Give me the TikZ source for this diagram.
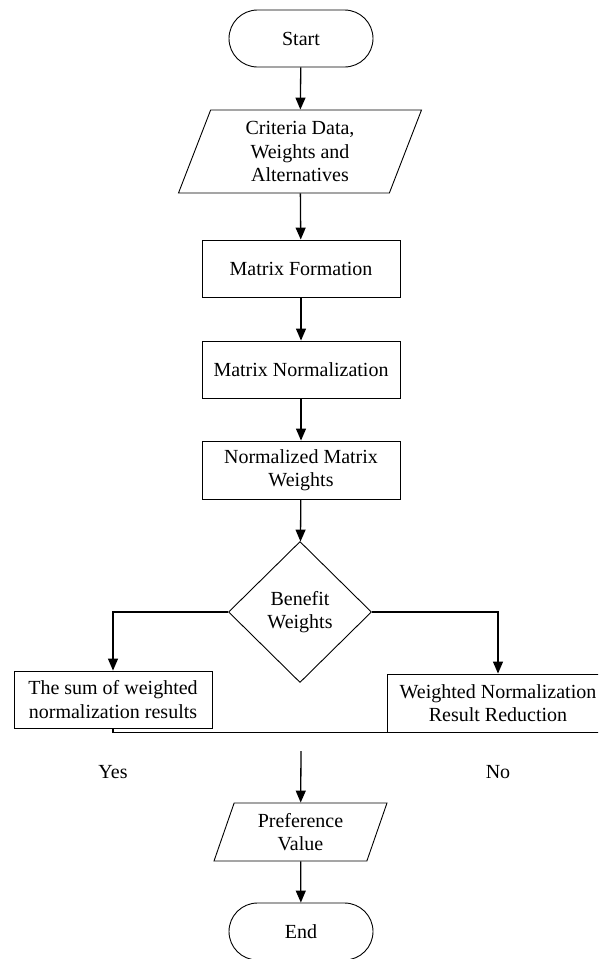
\documentclass[tikz,border=0pt]{standalone}
\usepackage{fontspec}
\setmainfont{Liberation Serif}
\usetikzlibrary{positioning, shapes.geometric, shapes.misc, arrows.meta}
\tikzstyle{flowchart} = [x = 1pt, y = -1pt, every node/.style={font=\fontsize{20}{23.5}\selectfont, align=center, inner sep=0pt}]
\tikzstyle{terminalStyle} = [draw, rounded rectangle, minimum width=144, minimum height=57, line width=.9pt]
\tikzstyle{processStyle} = [draw, rectangle, minimum width=198, minimum height=57, line width=.9pt]
\tikzstyle{dataStyle} = [draw, trapezium, trapezium left angle=62, trapezium right angle=118, trapezium stretches body, line width=.9pt]
\tikzstyle{decisionStyle} = [draw, diamond, minimum width=143, minimum height=141, line width=.9pt]
\tikzstyle{flowLine} = [line width=1.3pt]
\tikzstyle{flowArrow} = [flowLine, -{Triangle[length=12, width=10]}]

\begin{document}
\begin{tikzpicture}[flowchart]
  \useasboundingbox (0,0) rectangle (598,959);
  \clip (0,0) rectangle (598,959);
  % main column
  \node [terminalStyle] (start) at (301, 38.5) {Start};
  \node [dataStyle, minimum width=243, minimum height=83] (criteria) at (300, 151.5) {Criteria Data,\\Weights and\\Alternatives};
  \node [processStyle] (formation) at (301, 268.5) {Matrix Formation};
  \node [processStyle] (normalization) at (301, 369.5) {Matrix Normalization};
  \node [processStyle, minimum height=58] (matrixWeights) at (301, 470) {Normalized Matrix\\Weights};
  \node [decisionStyle] (benefit) at (300, 612) {Benefit\\Weights};
  % branches
  \node [processStyle] (sumResult) at (113, 699.5) {The sum of weighted\\normalization results};
  \node [processStyle, minimum width=222, minimum height=58] (reduction) at (498, 703) {Weighted Normalization\\Result Reduction};
  \node (yesLabel) at (113, 772) {Yes};
  \node (noLabel) at (498, 772) {No};
  \coordinate (joinPoint) at (301, 751);
  \node [dataStyle, minimum width=173, minimum height=58] (preference) at (300.5, 832) {Preference\\Value};
  \node [terminalStyle] (finish) at (301, 931.5) {End};
  % connectors
  \draw [flowArrow] (start) -- (criteria);
  \draw [flowArrow] (criteria) -- (formation);
  \draw [flowArrow] (formation) -- (normalization);
  \draw [flowArrow] (normalization) -- (matrixWeights);
  \draw [flowArrow] (matrixWeights) -- (benefit);
  \draw [flowArrow] (benefit.west) -| (sumResult.north);
  \draw [flowArrow] (benefit.east) -| (reduction.north);
  \draw [flowLine] (sumResult.south) |- (reduction.south);
  \draw [flowArrow] (joinPoint) -- (preference);
  \draw [flowArrow] (preference) -- (finish);
\end{tikzpicture}
\end{document}
